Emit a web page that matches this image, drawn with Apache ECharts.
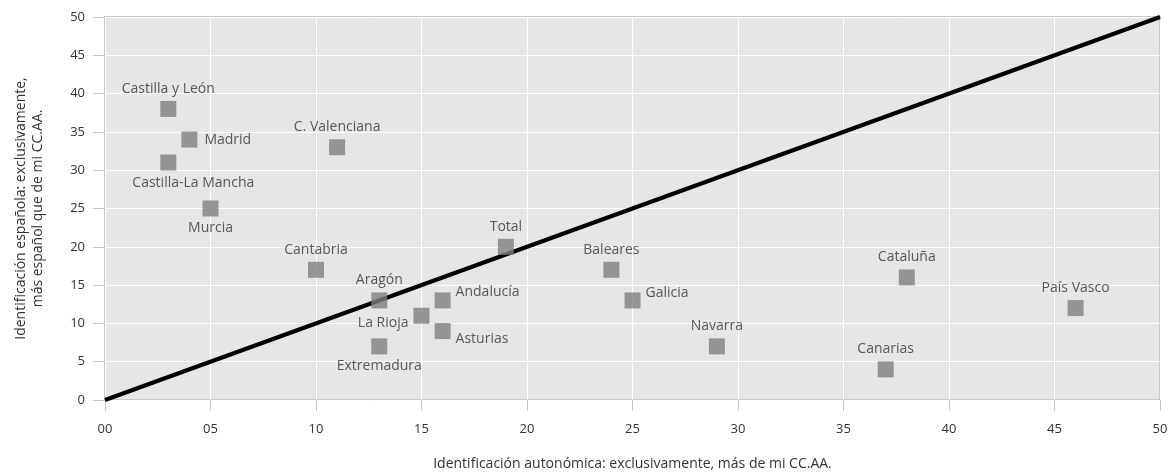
<!DOCTYPE html>
<html>
<head>
<meta charset="utf-8">
<script src="https://cdn.jsdelivr.net/npm/echarts@6/dist/echarts.min.js"></script>
<style>html,body{margin:0;padding:0;background:#fff}#c{width:1171px;height:472px}</style>
</head>
<body>
<div id="c"></div>
<script>
const regions = ["Castilla y León","Madrid","Castilla-La Mancha","Murcia","C. Valenciana","Cantabria","Aragón","La Rioja","Extremadura","Andalucía","Asturias","Total","Baleares","Galicia","Navarra","Canarias","Cataluña","País Vasco"];
const autonomica = [3,4,3,5,11,10,13,15,13,16,16,19,24,25,29,37,38,46];
const espanola = [38,34,31,25,33,17,13,11,7,13,9,20,17,13,7,4,16,12];
const diagonal = [[0,0],[50,50]];
const xTicks = ["00","05","10","15","20","25","30","35","40","45","50"];

const labelStyle = {
  "Madrid": {position:"right", distance:7},
  "Castilla-La Mancha": {position:"bottom", offset:[25,0]},
  "Murcia": {position:"bottom"},
  "La Rioja": {position:"left", offset:[0,7]},
  "Extremadura": {position:"bottom"},
  "Andalucía": {position:"right", offset:[0,-8]},
  "Asturias": {position:"right", offset:[0,8]},
  "Galicia": {position:"right", offset:[0,-7]}
};

const pts = regions.map((n,i)=>{
  const s = labelStyle[n] || {position:"top"};
  return {name:n, value:[autonomica[i], espanola[i]], label:Object.assign({show:true, distance:5}, s)};
});

const font = "'Open Sans', sans-serif";
const chart = echarts.init(document.getElementById('c'));
chart.setOption({
  animation:false,
  textStyle:{fontFamily:font},
  grid:{left:105,right:11,top:17,bottom:72,containLabel:false,outerBoundsMode:'none',show:true,backgroundColor:'#e6e6e6',borderColor:'#c8c8c8',borderWidth:2},
  xAxis:{type:'value',min:0,max:50,interval:5,
    name:'Identificación autonómica: exclusivamente, más de mi CC.AA.',nameLocation:'middle',nameGap:57,
    nameTextStyle:{fontSize:14,color:'#333',fontFamily:font},
    axisLine:{show:false},
    axisTick:{show:true,length:11,lineStyle:{color:'#c8c8c8',width:1}},
    axisLabel:{fontSize:13,color:'#333',margin:23,formatter:(v)=>xTicks[Math.round(v/5)]},
    splitLine:{show:true,lineStyle:{color:'#ffffff',width:1}}},
  yAxis:{type:'value',min:0,max:50,interval:5,
    name:'Identificación española: exclusivamente,\nmás español que de mi CC.AA.',nameLocation:'middle',nameGap:58,
    nameTextStyle:{fontSize:14,color:'#333',lineHeight:17,fontFamily:font},
    axisLine:{show:false},
    axisTick:{show:true,length:12,lineStyle:{color:'#c8c8c8',width:1}},
    axisLabel:{fontSize:13,color:'#333',margin:20},
    splitLine:{show:true,lineStyle:{color:'#ffffff',width:1}}},
  series:[
    {type:'line',data:diagonal,symbol:'none',lineStyle:{color:'#000',width:4},z:2,silent:true},
    {type:'scatter',data:pts,symbol:'rect',symbolSize:16,itemStyle:{color:'#808080'},z:3,
     label:{color:'#333',fontSize:14,fontFamily:font,formatter:'{b}'}}
  ]
});
</script>
</body>
</html>
